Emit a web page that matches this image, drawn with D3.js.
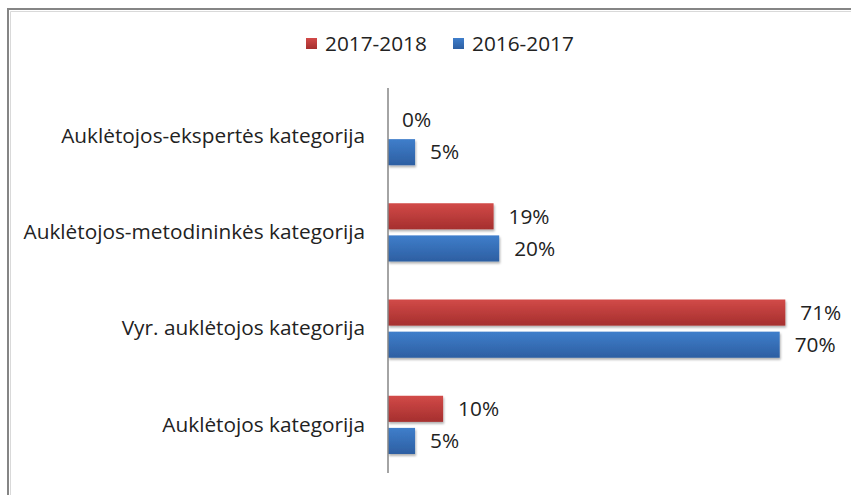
<!DOCTYPE html>
<html>
<head>
<meta charset="utf-8">
<script src="https://cdn.jsdelivr.net/npm/d3@7"></script>
<style>
	body { margin: 0; background: #fff; }
	text { font-family: "Open Sans", sans-serif; fill: #222; }
</style>
</head>
<body>
<svg id="chart" width="851" height="495"></svg>
<script>
var categories = ["Auklėtojos-ekspertės kategorija", "Auklėtojos-metodininkės kategorija", "Vyr. auklėtojos kategorija", "Auklėtojos kategorija"];
var seriesNames = ["2017-2018", "2016-2017"];
var values2017 = [0, 19, 71, 10];
var values2016 = [5, 20, 70, 5];

var fontSize = 20.8;
var svg = d3.select("#chart"),
	margin = {top: 88, left: 388, bottom: 22},
	plotH = 495 - margin.top - margin.bottom;

// chart frame (only top & left edges visible)
svg.append("path").attr("d", "M8,495 V9 H851").attr("fill", "none").attr("stroke", "#858585").attr("stroke-width", 2);
svg.append("path").attr("d", "M10.5,495 V11.5 H851").attr("fill", "none").attr("stroke", "#d9d9d9").attr("stroke-width", 1);

var defs = svg.append("defs");
function grad(id, top, bottom) {
	var g = defs.append("linearGradient").attr("id", id).attr("x1", 0).attr("y1", 0).attr("x2", 0).attr("y2", 1);
	g.append("stop").attr("offset", "0%").attr("stop-color", top);
	g.append("stop").attr("offset", "100%").attr("stop-color", bottom);
}
grad("gRed", "#d24a48", "#a52f2e");
grad("gBlue", "#3f7ecb", "#2d5fa2");
var f = defs.append("filter").attr("id", "shadow").attr("x", "-5%").attr("y", "-20%").attr("width", "115%").attr("height", "160%");
f.append("feDropShadow").attr("dx", 1).attr("dy", 2).attr("stdDeviation", 1.2).attr("flood-color", "#000").attr("flood-opacity", 0.3);

var x = d3.scaleLinear().domain([0, 1]).range([0, 561]);
var y = d3.scaleBand().domain(categories).range([0, plotH]).paddingInner(0).paddingOuter(0);
var inner = d3.scaleBand().domain(seriesNames).range([19, y.bandwidth() - 19]).paddingInner(0.1875);

var g = svg.append("g").attr("transform", "translate(" + margin.left + "," + margin.top + ")");

var rows = [];
categories.forEach(function(c, i) {
	rows.push({cat: c, series: seriesNames[0], v: values2017[i], fill: "url(#gRed)"});
	rows.push({cat: c, series: seriesNames[1], v: values2016[i], fill: "url(#gBlue)"});
});

g.selectAll("rect.bar").data(rows.filter(function(d) { return d.v > 0; })).enter().append("rect")
	.attr("class", "bar")
	.attr("x", 0)
	.attr("y", function(d) { return y(d.cat) + inner(d.series); })
	.attr("width", function(d) { return x(d.v / 100) - 1; })
	.attr("height", inner.bandwidth())
	.attr("fill", function(d) { return d.fill; })
	.attr("filter", "url(#shadow)");

g.selectAll("text.val").data(rows).enter().append("text")
	.attr("class", "val")
	.attr("x", function(d) { return x(d.v / 100) + 14; })
	.attr("y", function(d) { return y(d.cat) + inner(d.series) + inner.bandwidth() / 2; })
	.attr("dy", "0.35em")
	.attr("font-size", fontSize)
	.text(function(d) { return d.v + "%"; });

// category axis
var yAxis = d3.axisLeft(y).tickSize(0).tickPadding(23);
var ga = g.append("g").call(yAxis);
ga.select(".domain").attr("stroke", "#868686").attr("stroke-width", 1.5).attr("d", "M0,0V" + plotH);
ga.selectAll("text").attr("font-size", fontSize).attr("fill", "#222").attr("font-family", "'Open Sans', sans-serif");

// legend
var legendX = [306, 453];
var lg = svg.append("g");
seriesNames.forEach(function(s, i) {
	lg.append("rect").attr("x", legendX[i]).attr("y", 38).attr("width", 11).attr("height", 11)
		.attr("fill", i == 0 ? "url(#gRed)" : "url(#gBlue)");
	lg.append("text").attr("x", legendX[i] + 19).attr("y", 44).attr("dy", "0.35em")
		.attr("font-size", fontSize).text(s);
});
</script>
</body>
</html>
